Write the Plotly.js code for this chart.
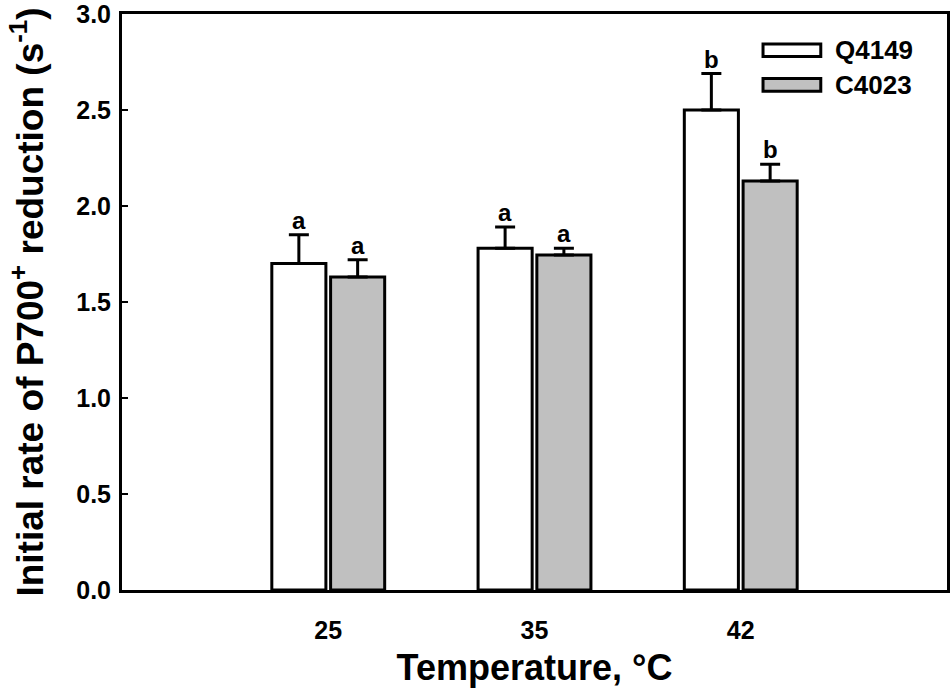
<!DOCTYPE html>
<html>
<head>
<meta charset="utf-8">
<script src="https://cdn.plot.ly/plotly-3.0.1.min.js"></script>
<style>
    html, body { margin: 0; padding: 0; background: #ffffff; }
    #chart { width: 950px; height: 692px; }
</style>
</head>
<body>
<div id="chart"></div>
<script>
// Initial rate of P700+ reduction at three temperatures

const temperatures = ['25', '35', '42'];
const seriesNames = ['Q4149', 'C4023'];

const q4149Values = [1.70, 1.78, 2.50];
const q4149Errors = [0.15, 0.11, 0.19];
const q4149Letters = ['a', 'a', 'b'];

const c4023Values = [1.63, 1.745, 2.13];
const c4023Errors = [0.09, 0.035, 0.087];
const c4023Letters = ['a', 'a', 'b'];

const yTickValues = [0, 0.5, 1.0, 1.5, 2.0, 2.5, 3.0];
const yTickLabels = ['0.0', '0.5', '1.0', '1.5', '2.0', '2.5', '3.0'];

const fillColors = ['#ffffff', '#c0c0c0'];

const fontFamily = 'Arial, "Liberation Sans", sans-serif';
const barGap = 0.43;

function makeBarTrace(name, values, errors, fill) {
    return {
        type: 'bar',
        name: name,
        x: temperatures,
        y: values,
        marker: {
            color: fill,
            line: { color: '#000000', width: 3 }
        },
        error_y: {
            type: 'data',
            symmetric: false,
            array: errors,
            arrayminus: errors.map(() => 0),
            color: '#000000',
            thickness: 3,
            width: 10
        },
        showlegend: false,
        hoverinfo: 'x+y'
    };
}

const data = [
    makeBarTrace(seriesNames[0], q4149Values, q4149Errors, fillColors[0]),
    makeBarTrace(seriesNames[1], c4023Values, c4023Errors, fillColors[1])
];

// Significance letters sit above each error bar
const slot = (1 - barGap) / 2;
const annotations = [];
[[q4149Values, q4149Errors, q4149Letters, -slot / 2],
 [c4023Values, c4023Errors, c4023Letters, slot / 2]].forEach(([vals, errs, letters, offset]) => {
    vals.forEach((v, i) => {
        annotations.push({
            xref: 'x', yref: 'y',
            x: i + offset,
            y: v + errs[i],
            text: '<b>' + letters[i] + '</b>',
            showarrow: false,
            yanchor: 'bottom',
            yshift: -1,
            font: { family: fontFamily, size: 24, color: '#000000' }
        });
    });
});

// Legend drawn by hand so the swatches can be wide boxes like the original
const shapes = [];
seriesNames.forEach((name, i) => {
    const yTop = 0.948 - i * 0.06;
    shapes.push({
        type: 'rect', xref: 'paper', yref: 'paper',
        x0: 0.777, x1: 0.847,
        y0: yTop - 0.022, y1: yTop,
        fillcolor: fillColors[i],
        line: { color: '#000000', width: 3 }
    });
    annotations.push({
        xref: 'paper', yref: 'paper',
        x: 0.862, y: yTop - 0.011,
        xanchor: 'left', yanchor: 'middle',
        text: '<b>' + name + '</b>',
        showarrow: false,
        font: { family: fontFamily, size: 26, color: '#000000' }
    });
});

const layout = {
    width: 950,
    height: 692,
    margin: { l: 122, r: 3, t: 14, b: 102 },
    paper_bgcolor: '#ffffff',
    plot_bgcolor: '#ffffff',
    barmode: 'group',
    bargap: barGap,
    bargroupgap: 0.08,
    font: { family: fontFamily, color: '#000000' },
    xaxis: {
        type: 'category',
        range: [-1, 3],
        showline: true,
        linecolor: '#000000',
        linewidth: 3,
        mirror: true,
        ticks: '',
        showgrid: false,
        ticklabelstandoff: 16,
        tickfont: { family: fontFamily, size: 25, weight: 'bold' },
        title: {
            text: '<b>Temperature, °C</b>',
            font: { family: fontFamily, size: 36 },
            standoff: 12
        }
    },
    yaxis: {
        range: [0, 3],
        tickmode: 'array',
        tickvals: yTickValues,
        ticktext: yTickLabels,
        ticklabeloverflow: 'allow',
        showline: true,
        linecolor: '#000000',
        linewidth: 3,
        mirror: true,
        ticks: 'inside',
        ticklen: 6,
        tickwidth: 2,
        tickcolor: '#000000',
        showgrid: false,
        zeroline: false,
        ticklabelstandoff: 3,
        tickfont: { family: fontFamily, size: 25, weight: 'bold' },
        title: {
            text: '<b>Initial rate of P700<sup>+</sup> reduction (s<sup>-1</sup>)</b>',
            font: { family: fontFamily, size: 37 },
            standoff: 22
        }
    },
    shapes: shapes,
    annotations: annotations
};

Plotly.newPlot('chart', data, layout, { displayModeBar: false, staticPlot: true });
</script>
</body>
</html>
